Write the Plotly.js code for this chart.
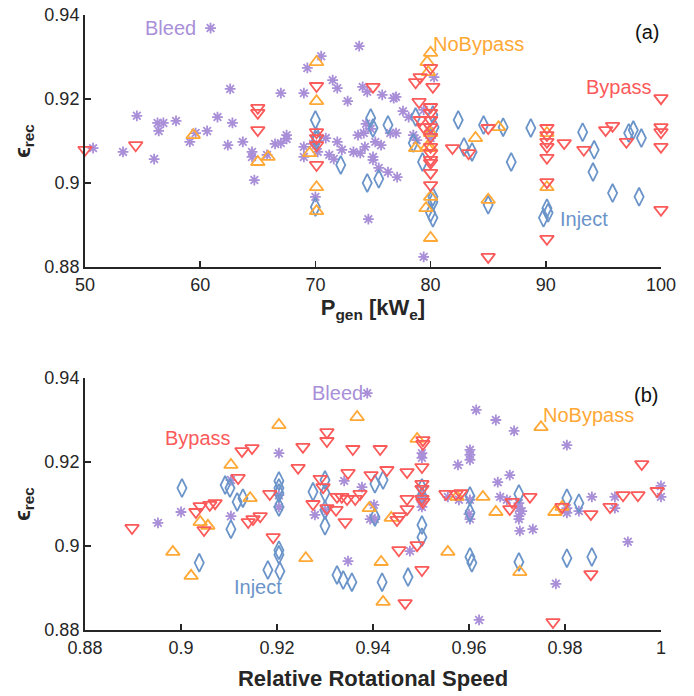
<!DOCTYPE html>
<html>
<head>
<meta charset="utf-8">
<script src="https://cdn.plot.ly/plotly-3.0.1.min.js"></script>
<style>
  html, body { margin: 0; padding: 0; background: #fff; }
  #chart { width: 694px; height: 696px; }
</style>
</head>
<body>
<div id="chart"></div>
<script>
// ---- Panel (a): recuperator effectiveness vs. generator power [kWe] ----
const bleedPow = [60.9, 73.8, 70.5, 69.3, 71.5, 71.9, 74.1, 74.5, 75.8, 72.8, 69.0, 67.0, 62.6, 61.5, 62.8, 60.6, 59.6, 59.1, 57.9, 56.8, 56.3, 56.4, 54.5, 53.3, 50.7, 56.0, 62.4, 63.7, 64.5, 64.5, 64.7, 65.8, 66.5, 67.0, 67.5, 67.5, 69.0, 69.0, 69.8, 70.2, 70.9, 71.9, 72.3, 71.2, 71.6, 70.0, 74.6, 73.3, 73.9, 74.3, 75.0, 75.2, 75.7, 73.7, 74.2, 74.4, 75.0, 75.5, 76.3, 77.1, 77.0, 77.6, 78.1, 79.4, 80.3, 79.4, 78.5, 78.8, 80.0, 76.8, 74.8, 76.5, 77.0, 79.9];
const bleedEffA = [0.9369, 0.9326, 0.9302, 0.9274, 0.9245, 0.9226, 0.9229, 0.9217, 0.9210, 0.9195, 0.9214, 0.9214, 0.9224, 0.9157, 0.9143, 0.9124, 0.9119, 0.9098, 0.9148, 0.9143, 0.9143, 0.9124, 0.9160, 0.9074, 0.9083, 0.9057, 0.9090, 0.9098, 0.9074, 0.9062, 0.9007, 0.9067, 0.9093, 0.9095, 0.9114, 0.9105, 0.9086, 0.9062, 0.9093, 0.9074, 0.9107, 0.9098, 0.9079, 0.9067, 0.9057, 0.8967, 0.8914, 0.9074, 0.9071, 0.9086, 0.9062, 0.9098, 0.9090, 0.9114, 0.9119, 0.9141, 0.9055, 0.9036, 0.9026, 0.9014, 0.9205, 0.9171, 0.9157, 0.9174, 0.9252, 0.8824, 0.9114, 0.9102, 0.9107, 0.9202, 0.9129, 0.9119, 0.9119, 0.9124];

const noBypassPow = [70.1, 70.1, 59.4, 65.0, 65.9, 69.5, 70.1, 70.1, 80.0, 79.7, 79.8, 80.0, 79.7, 80.0, 78.7, 80.0, 79.6, 80.0, 83.9, 85.9, 85.0, 90.1, 90.1];
const noBypassEffA = [0.9288, 0.9195, 0.9114, 0.9050, 0.9062, 0.9071, 0.8990, 0.8933, 0.9310, 0.9288, 0.9264, 0.9119, 0.9086, 0.9083, 0.9083, 0.8967, 0.8940, 0.8869, 0.9107, 0.9133, 0.8960, 0.9119, 0.8990];

const bypassPow = [50.0, 54.4, 65.0, 65.0, 65.0, 70.1, 70.1, 70.1, 70.1, 70.1, 75.0, 78.7, 79.1, 80.0, 80.2, 79.0, 80.0, 80.0, 80.0, 80.0, 80.0, 80.0, 80.0, 80.0, 80.0, 80.0, 80.0, 79.1, 79.4, 81.9, 83.3, 85.0, 85.0, 90.1, 90.1, 90.1, 90.1, 90.1, 90.1, 90.1, 91.6, 93.3, 95.2, 95.8, 97.0, 100, 100, 100, 100, 100];
const bypassEffA = [0.9079, 0.9090, 0.9179, 0.9167, 0.9126, 0.9231, 0.9121, 0.9107, 0.9090, 0.9043, 0.9229, 0.9240, 0.9252, 0.9274, 0.9229, 0.9193, 0.9181, 0.9167, 0.9150, 0.9133, 0.9110, 0.9086, 0.9071, 0.9055, 0.9048, 0.9024, 0.8995, 0.9150, 0.9133, 0.9083, 0.9071, 0.9131, 0.8824, 0.9131, 0.9114, 0.9098, 0.9086, 0.9060, 0.9002, 0.8867, 0.9095, 0.9079, 0.9126, 0.9136, 0.9098, 0.9202, 0.9133, 0.9121, 0.9086, 0.8936];

const injectPow = [70.0, 70.1, 70.1, 72.2, 70.0, 74.8, 75.0, 76.3, 74.5, 75.5, 78.7, 78.5, 79.3, 80.2, 80.3, 80.2, 80.2, 80.0, 80.2, 82.4, 82.9, 83.6, 84.6, 85.0, 86.3, 87.0, 88.7, 90.1, 90.2, 89.8, 93.2, 94.2, 94.1, 95.8, 97.2, 97.6, 98.1, 98.3];
const injectEffA = [0.9150, 0.9110, 0.9102, 0.9043, 0.8943, 0.9155, 0.9131, 0.9138, 0.9000, 0.9010, 0.9157, 0.9095, 0.9050, 0.9162, 0.9133, 0.8967, 0.8955, 0.8929, 0.8917, 0.9150, 0.9086, 0.9074, 0.9138, 0.8948, 0.9133, 0.9050, 0.9131, 0.8940, 0.8929, 0.8917, 0.9121, 0.9079, 0.9026, 0.8976, 0.9119, 0.9126, 0.8967, 0.9107];

// ---- Panel (b): recuperator effectiveness vs. relative rotational speed ----
const bleedSpd = [0.8952, 0.9000, 0.9104, 0.9104, 0.9204, 0.9204, 0.9204, 0.9279, 0.9300, 0.9340, 0.9377, 0.9402, 0.9394, 0.9404, 0.9348, 0.9388, 0.9502, 0.9502, 0.9502, 0.9502, 0.9502, 0.9477, 0.9621, 0.9615, 0.9656, 0.9694, 0.9804, 0.9602, 0.9602, 0.9602, 0.9577, 0.9660, 0.9685, 0.9556, 0.9579, 0.9602, 0.9602, 0.9600, 0.9665, 0.9679, 0.9704, 0.9704, 0.9710, 0.9704, 0.9704, 0.9706, 0.9733, 0.9781, 0.9804, 0.9804, 0.9829, 0.9856, 0.9904, 0.9904, 0.9931, 1.0000, 1.0000];
const bleedEffB = [0.9055, 0.9081, 0.9157, 0.9071, 0.9221, 0.9121, 0.9093, 0.9074, 0.9086, 0.9155, 0.9140, 0.9098, 0.9064, 0.9064, 0.8964, 0.9364, 0.9221, 0.9210, 0.9121, 0.9105, 0.9093, 0.8988, 0.8824, 0.9324, 0.9300, 0.9274, 0.9240, 0.9229, 0.9217, 0.9205, 0.9193, 0.9152, 0.9169, 0.9117, 0.9110, 0.9110, 0.9064, 0.9076, 0.9117, 0.9110, 0.9102, 0.9090, 0.9083, 0.9071, 0.9064, 0.9036, 0.9040, 0.8910, 0.9090, 0.9079, 0.9083, 0.9117, 0.9117, 0.9090, 0.9010, 0.9143, 0.9117];

const noBypassSpd = [0.9204, 0.9367, 0.9104, 0.9144, 0.9040, 0.9056, 0.8983, 0.9021, 0.9260, 0.9392, 0.9417, 0.9421, 0.9492, 0.9438, 0.9556, 0.9575, 0.9629, 0.9656, 0.9706, 0.9750, 0.9779, 0.9794];
const noBypassEffB = [0.9288, 0.9307, 0.9193, 0.9114, 0.9057, 0.9048, 0.8986, 0.8929, 0.8971, 0.9090, 0.8962, 0.8867, 0.9255, 0.9067, 0.8986, 0.9117, 0.9117, 0.9081, 0.8938, 0.9283, 0.9081, 0.9093];

const bypassSpd = [0.8898, 0.9031, 0.9040, 0.9060, 0.9071, 0.9048, 0.9119, 0.9127, 0.9148, 0.9140, 0.9150, 0.9165, 0.9185, 0.9192, 0.9244, 0.9254, 0.9275, 0.9290, 0.9296, 0.9304, 0.9304, 0.9304, 0.9325, 0.9335, 0.9323, 0.9342, 0.9348, 0.9358, 0.9346, 0.9363, 0.9373, 0.9396, 0.9415, 0.9429, 0.9471, 0.9502, 0.9504, 0.9504, 0.9502, 0.9502, 0.9502, 0.9504, 0.9471, 0.9471, 0.9456, 0.9450, 0.9454, 0.9492, 0.9502, 0.9467, 0.9552, 0.9573, 0.9583, 0.9690, 0.9727, 0.9685, 0.9775, 0.9794, 0.9960, 0.9921, 0.9952, 0.9992, 0.9894, 0.9854, 0.9854];
const bypassEffB = [0.9043, 0.9081, 0.9095, 0.9098, 0.9102, 0.9038, 0.9162, 0.9226, 0.9233, 0.9057, 0.9064, 0.9071, 0.9124, 0.9021, 0.9186, 0.9236, 0.9100, 0.9160, 0.9140, 0.9271, 0.9250, 0.9090, 0.9117, 0.9117, 0.9086, 0.9057, 0.9174, 0.9231, 0.9112, 0.9112, 0.9124, 0.9169, 0.9231, 0.9181, 0.9176, 0.9188, 0.9252, 0.9243, 0.9148, 0.9136, 0.9112, 0.9105, 0.9112, 0.9088, 0.9071, 0.9062, 0.8990, 0.9002, 0.8943, 0.8864, 0.9124, 0.9124, 0.9126, 0.9105, 0.9117, 0.9088, 0.8819, 0.9093, 0.9195, 0.9121, 0.9121, 0.9131, 0.9093, 0.9076, 0.8933];

const injectSpd = [0.9002, 0.9038, 0.9092, 0.9102, 0.9117, 0.9129, 0.9104, 0.9204, 0.9204, 0.9204, 0.9204, 0.9204, 0.9204, 0.9181, 0.9206, 0.9275, 0.9300, 0.9300, 0.9300, 0.9300, 0.9325, 0.9338, 0.9356, 0.9404, 0.9421, 0.9404, 0.9419, 0.9473, 0.9502, 0.9502, 0.9502, 0.9502, 0.9602, 0.9602, 0.9602, 0.9606, 0.9704, 0.9704, 0.9804, 0.9829, 0.9804, 0.9856];
const injectEffB = [0.9138, 0.8960, 0.9145, 0.9138, 0.9105, 0.9114, 0.9040, 0.9155, 0.9138, 0.9126, 0.9093, 0.8990, 0.8979, 0.8943, 0.8940, 0.9129, 0.9157, 0.9126, 0.9086, 0.9048, 0.8931, 0.8919, 0.8914, 0.9148, 0.9157, 0.9069, 0.8914, 0.8926, 0.9138, 0.9119, 0.9050, 0.9021, 0.9119, 0.9079, 0.8974, 0.8960, 0.9124, 0.8962, 0.9114, 0.9102, 0.8971, 0.8974];

// Tick labels
const effTicks = [0.88, 0.90, 0.92, 0.94];
const effTickText = ['0.88', '0.9', '0.92', '0.94'];
const powTicks = [50, 60, 70, 80, 90, 100];
const powTickText = ['50', '60', '70', '80', '90', '100'];
const spdTicks = [0.88, 0.90, 0.92, 0.94, 0.96, 0.98, 1.0];
const spdTickText = ['0.88', '0.9', '0.92', '0.94', '0.96', '0.98', '1'];

// Series styling
const COL = {
  bleed: '#a98fd8',
  noBypass: '#ffa836',
  bypass: '#fb5a5a',
  inject: '#6b94c9'
};

function series(x, y, xa, ya, symbol, color, size) {
  return {
    type: 'scatter', mode: 'markers', x: x, y: y, xaxis: xa, yaxis: ya,
    cliponaxis: false, showlegend: false, hoverinfo: 'skip',
    marker: { symbol: symbol, size: size, color: color, line: { color: color, width: 1.8 } }
  };
}

const traces = [
  series(bleedPow, bleedEffA, 'x', 'y', 'asterisk-open', COL.bleed, 9),
  series(injectPow, injectEffA, 'x', 'y', 'diamond-tall-open', COL.inject, 13),
  series(noBypassPow, noBypassEffA, 'x', 'y', 'triangle-up-open', COL.noBypass, 12),
  series(bypassPow, bypassEffA, 'x', 'y', 'triangle-down-open', COL.bypass, 12),
  series(bleedSpd, bleedEffB, 'x2', 'y2', 'asterisk-open', COL.bleed, 9),
  series(injectSpd, injectEffB, 'x2', 'y2', 'diamond-tall-open', COL.inject, 13),
  series(noBypassSpd, noBypassEffB, 'x2', 'y2', 'triangle-up-open', COL.noBypass, 12),
  series(bypassSpd, bypassEffB, 'x2', 'y2', 'triangle-down-open', COL.bypass, 12)
];

const FONT = 'Liberation Sans, Arial, Helvetica, sans-serif';
const INK = '#262626';

function axisBase(extra) {
  return Object.assign({
    showgrid: false, zeroline: false, showline: true, linecolor: INK, linewidth: 2,
    ticks: 'inside', ticklen: 6, tickwidth: 1.5, tickcolor: INK,
    tickfont: { family: FONT, size: 18, color: INK }, mirror: false
  }, extra);
}

function label(text, x, y, xref, yref, color, anchor) {
  return { text: text, x: x, y: y, xref: xref, yref: yref, showarrow: false,
           xanchor: anchor || 'center', yanchor: 'middle',
           font: { family: FONT, size: 20, color: color } };
}

const TITLE_FONT = { family: FONT, size: 22, color: INK };

const layout = {
  width: 694, height: 696,
  paper_bgcolor: '#ffffff', plot_bgcolor: '#ffffff',
  margin: { l: 0, r: 0, t: 0, b: 0 },
  font: { family: FONT, color: INK },
  xaxis: axisBase({ domain: [0.1225, 0.9524], range: [50, 100], anchor: 'y',
    tickvals: powTicks, ticktext: powTickText,
    title: { text: '<b>P<sub>gen</sub> [kW<sub>e</sub>]</b>', font: TITLE_FONT, standoff: 6 } }),
  yaxis: axisBase({ domain: [0.6164, 0.9784], range: [0.88, 0.94], anchor: 'x',
    tickvals: effTicks, ticktext: effTickText,
    title: { text: '<b>ϵ<sub>rec</sub></b>', font: TITLE_FONT, standoff: 8 } }),
  xaxis2: axisBase({ domain: [0.1225, 0.9524], range: [0.88, 1.0], anchor: 'y2',
    tickvals: spdTicks, ticktext: spdTickText,
    title: { text: '<b>Relative Rotational Speed</b>', font: TITLE_FONT, standoff: 14 } }),
  yaxis2: axisBase({ domain: [0.0948, 0.4569], range: [0.88, 0.94], anchor: 'x2',
    tickvals: effTicks, ticktext: effTickText,
    title: { text: '<b>ϵ<sub>rec</sub></b>', font: TITLE_FONT, standoff: 8 } }),
  annotations: [
    label('Bleed', 59.8, 0.9369, 'x', 'y', COL.bleed, 'right'),
    label('NoBypass', 80.0, 0.9331, 'x', 'y', COL.noBypass, 'left'),
    label('Bypass', 93.3, 0.9229, 'x', 'y', COL.bypass, 'left'),
    label('Inject', 91.1, 0.8914, 'x', 'y', COL.inject, 'left'),
    label('(a)', 98.8, 0.9360, 'x', 'y', '#111111'),
    label('Bleed', 0.9269, 0.9364, 'x2', 'y2', COL.bleed, 'left'),
    label('NoBypass', 0.9750, 0.9312, 'x2', 'y2', COL.noBypass, 'left'),
    label('Bypass', 0.8963, 0.9257, 'x2', 'y2', COL.bypass, 'left'),
    label('Inject', 0.9106, 0.8902, 'x2', 'y2', COL.inject, 'left'),
    label('(b)', 0.9969, 0.9360, 'x2', 'y2', '#111111')
  ]
};

Plotly.newPlot('chart', traces, layout, { staticPlot: true, displayModeBar: false });
</script>
</body>
</html>
